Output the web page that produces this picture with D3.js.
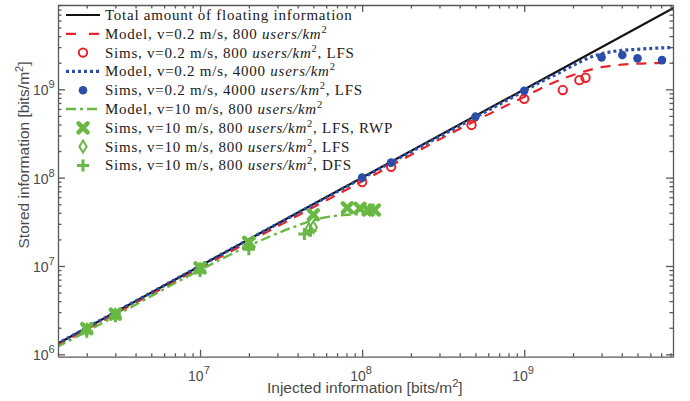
<!DOCTYPE html>
<html>
<head>
<meta charset="utf-8">
<script src="https://cdn.jsdelivr.net/npm/d3@7"></script>
<style>
  body { margin: 0; background: #fff; }
  svg { display: block; }
  .axis path, .axis line { stroke: #595959; stroke-width: 1.3; }
  .ticklab { font-family: "Liberation Sans", Arial, sans-serif; font-size: 14px; fill: #4a4a4a; }
  .axlab { font-family: "Liberation Sans", Arial, sans-serif; font-size: 15.5px; fill: #4a4a4a; }
  .leg { font-family: "Liberation Serif", "DejaVu Serif", serif; font-size: 15px; letter-spacing: 0.75px; fill: #1a1a1a; }
</style>
</head>
<body>
<div class="chart"></div>
<script>
// axis ticks
var xMajor = [1e7, 1e8, 1e9];
var yMajor = [1e6, 1e7, 1e8, 1e9];

// total amount of floating information (y = x)
var totalLine = [[1e6, 1e6], [1e10, 1e10]];

// model curves [injected, stored]
var modelRed = [[1.3e6, 1.25e6], [1e7, 9.5e6], [1e8, 9.1e7], [5e8, 4.4e8], [1e9, 8.2e8],
  [1.44e9, 1.14e9], [2e9, 1.45e9], [3e9, 1.78e9], [4e9, 1.9e9], [5e9, 1.95e9],
  [6.5e9, 1.98e9], [8.5e9, 2.0e9]];
var modelBlue = [[1.3e6, 1.3e6], [1e8, 9.9e7], [1e9, 9.6e8], [1.25e9, 1.2e9], [1.6e9, 1.5e9],
  [2e9, 1.86e9], [2.55e9, 2.3e9], [3.4e9, 2.65e9], [5.2e9, 2.85e9], [8.5e9, 2.98e9]];
var modelGreen = [[1.3e6, 1.2e6], [2e6, 1.82e6], [1e7, 9.0e6], [1.94e7, 1.65e7], [3.6e7, 2.67e7],
  [5.5e7, 3.45e7], [8.1e7, 3.8e7], [1.24e8, 3.9e7]];

// simulation points
var simsRed = [[1e8, 8.9e7], [1.51e8, 1.33e8], [4.73e8, 3.95e8], [1e9, 7.8e8],
  [1.73e9, 9.8e8], [2.19e9, 1.27e9], [2.39e9, 1.35e9]];
var simsBlue = [[1e8, 1.0e8], [1.51e8, 1.48e8], [5e8, 4.9e8], [1e9, 9.6e8],
  [3e9, 2.3e9], [4.03e9, 2.44e9], [5e9, 2.24e9], [7.08e9, 2.14e9]];
var simsRWP = [[2e6, 1.95e6], [3e6, 2.85e6], [1e7, 9.5e6], [2e7, 1.85e7], [5e7, 3.8e7],
  [8.1e7, 4.56e7], [9.7e7, 4.5e7], [1.09e8, 4.3e7], [1.19e8, 4.3e7]];
var simsLFS = [[2e6, 1.9e6], [3e6, 2.8e6], [1e7, 9.2e6], [2e7, 1.72e7], [4.7e7, 2.6e7], [5e7, 2.75e7]];
var simsDFS = [[2e6, 1.8e6], [3e6, 2.7e6], [1e7, 8.8e6], [2e7, 1.55e7], [4.4e7, 2.3e7], [4.8e7, 2.5e7]];

var legendLabels = [
  ["Total amount of floating information"],
  ["Model, v=0.2 m/s, 800 ", ""],
  ["Sims, v=0.2 m/s, 800 ", ", LFS"],
  ["Model, v=0.2 m/s, 4000 ", ""],
  ["Sims, v=0.2 m/s, 4000 ", ", LFS"],
  ["Model, v=10 m/s, 800 ", ""],
  ["Sims, v=10 m/s, 800 ", ", LFS, RWP"],
  ["Sims, v=10 m/s, 800 ", ", LFS"],
  ["Sims, v=10 m/s, 800 ", ", DFS"]
];

var RED = "#e8242b", BLUE = "#2d4ea8", GREEN = "#68b843";

var W = 690, H = 401;
var L = 58, R = 673, T = 5, B = 356.7;

var svg = d3.select(".chart").append("svg").attr("width", W).attr("height", H);

var x = d3.scaleLog().domain([1.329e6, 8.28e9]).range([L, R]);
var y = d3.scaleLog().domain([9.4e5, 9.0e9]).range([B, T]);

svg.append("clipPath").attr("id", "clip")
  .append("rect").attr("x", L).attr("y", T).attr("width", R - L).attr("height", B - T);

var line = d3.line()
  .curve(d3.curveMonotoneX)
  .x(function(d) { return x(d[0]); })
  .y(function(d) { return y(d[1]); });

var plot = svg.append("g").attr("clip-path", "url(#clip)");

plot.append("path").datum(totalLine).attr("d", line)
  .style("fill", "none").style("stroke", "#111").style("stroke-width", 2.2);
plot.append("path").datum(modelRed).attr("d", line)
  .style("fill", "none").style("stroke", RED).style("stroke-width", 2.2)
  .style("stroke-dasharray", "10,8");
plot.append("path").datum(modelGreen).attr("d", line)
  .style("fill", "none").style("stroke", GREEN).style("stroke-width", 2.4)
  .style("stroke-dasharray", "10,4,3,4");
plot.append("path").datum(modelBlue).attr("d", line)
  .style("fill", "none").style("stroke", BLUE).style("stroke-width", 3.2)
  .style("stroke-dasharray", "3,3");

// marker shapes
function drawMarker(sel, kind) {
  if (kind === "circle") {
    sel.append("circle").attr("r", 4.2)
      .style("fill", "none").style("stroke", RED).style("stroke-width", 2);
  } else if (kind === "dot") {
    sel.append("circle").attr("r", 4.3).style("fill", BLUE);
  } else if (kind === "x") {
    sel.append("path").attr("d", "M-4.5,-4.5L4.5,4.5M-4.5,4.5L4.5,-4.5")
      .style("stroke", GREEN).style("stroke-width", 4.5).style("stroke-linecap", "round");
  } else if (kind === "diamond") {
    sel.append("path").attr("d", "M0,-6L3.6,0L0,6L-3.6,0Z")
      .style("fill", "none").style("stroke", GREEN).style("stroke-width", 2);
  } else if (kind === "plus") {
    sel.append("path").attr("d", "M-6,0L6,0M0,-6L0,6")
      .style("stroke", GREEN).style("stroke-width", 3);
  }
}

function drawPoints(data, kind) {
  plot.append("g").selectAll("g").data(data).enter().append("g")
    .attr("transform", function(d) { return "translate(" + x(d[0]) + "," + y(d[1]) + ")"; })
    .each(function() { drawMarker(d3.select(this), kind); });
}
drawPoints(simsDFS, "plus");
drawPoints(simsLFS, "diamond");
drawPoints(simsRWP, "x");
drawPoints(simsRed, "circle");
drawPoints(simsBlue, "dot");

// axes, ticks pointing inward on all four sides
function isMajor(v) { return Math.abs(Math.log10(v) - Math.round(Math.log10(v))) < 1e-6; }
function tickLen(sel, sign, attr) {
  sel.selectAll(".tick line").attr(attr, function(d) { return sign * (isMajor(d) ? 7 : 3.5); });
}

var gx = svg.append("g").attr("class", "axis").attr("transform", "translate(0," + B + ")")
  .call(d3.axisBottom(x).tickValues(x.ticks()).tickSizeOuter(0).tickFormat(""));
tickLen(gx, -1, "y2");
var gxt = svg.append("g").attr("class", "axis").attr("transform", "translate(0," + T + ")")
  .call(d3.axisTop(x).tickValues(x.ticks()).tickSizeOuter(0).tickFormat(""));
tickLen(gxt, 1, "y2");
var gy = svg.append("g").attr("class", "axis").attr("transform", "translate(" + L + ",0)")
  .call(d3.axisLeft(y).tickValues(y.ticks()).tickSizeOuter(0).tickFormat(""));
tickLen(gy, 1, "x2");
var gyr = svg.append("g").attr("class", "axis").attr("transform", "translate(" + R + ",0)")
  .call(d3.axisRight(y).tickValues(y.ticks()).tickSizeOuter(0).tickFormat(""));
tickLen(gyr, -1, "x2");
svg.selectAll(".axis text").remove();

function powLabel(g, v) {
  var e = Math.round(Math.log10(v));
  g.append("tspan").text("10");
  g.append("tspan").attr("dy", -7).style("font-size", "11px").text(e);
}

svg.selectAll(".xlab").data(xMajor).enter().append("text")
  .attr("class", "ticklab")
  .attr("x", function(d) { return x(d) - 12; })
  .attr("y", 381)
  .each(function(d) { powLabel(d3.select(this), d); });

svg.selectAll(".ylab").data(yMajor).enter().append("text")
  .attr("class", "ticklab")
  .attr("x", 33)
  .attr("y", function(d) { return y(d) + 6; })
  .each(function(d) { powLabel(d3.select(this), d); });

var xl = svg.append("text").attr("class", "axlab").attr("x", 267).attr("y", 393);
xl.append("tspan").text("Injected information [bits/m");
xl.append("tspan").attr("dy", -6).style("font-size", "11px").text("2");
xl.append("tspan").attr("dy", 6).text("]");

var yl = svg.append("text").attr("class", "axlab")
  .attr("transform", "translate(29,155) rotate(-90)").attr("text-anchor", "middle");
yl.append("tspan").text("Stored information [bits/m");
yl.append("tspan").attr("dy", -6).style("font-size", "11px").text("2");
yl.append("tspan").attr("dy", 6).text("]");

// legend
var kinds = ["solid", "dashed", "circle", "dotted", "dot", "dashdot", "x", "diamond", "plus"];
var leg = svg.append("g");
var row = leg.selectAll("g").data(legendLabels).enter().append("g")
  .attr("transform", function(d, i) { return "translate(0," + (15 + i * 18.8) + ")"; });

row.each(function(d, i) {
  var r = d3.select(this), k = kinds[i];
  var styles = {
    solid: ["#111", 2.2, null], dashed: [RED, 2.2, "10,13"],
    dotted: [BLUE, 3.2, "3,3"], dashdot: [GREEN, 2.4, "10,4,3,4"]
  };
  if (styles[k]) {
    r.append("line").attr("x1", 66).attr("x2", 100)
      .style("stroke", styles[k][0]).style("stroke-width", styles[k][1])
      .style("stroke-dasharray", styles[k][2]);
  } else {
    drawMarker(r.append("g").attr("transform", "translate(83,0)"), k);
  }
  var t = r.append("text").attr("class", "leg").attr("x", 105).attr("y", 5);
  t.append("tspan").text(d[0]);
  if (d.length > 1) {
    t.append("tspan").style("font-style", "italic").text("users/km");
    t.append("tspan").attr("dy", -6).style("font-size", "10.5px").text("2");
    t.append("tspan").attr("dy", 6).text(d[1]);
  }
});
</script>
</body>
</html>
